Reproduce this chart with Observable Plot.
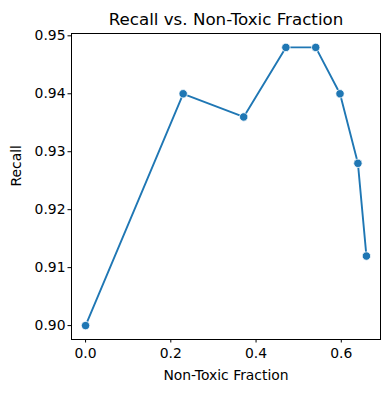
<!DOCTYPE html>
<html>
<head>
<meta charset="utf-8">
<script src="https://cdn.jsdelivr.net/npm/d3@7"></script>
<script src="https://cdn.jsdelivr.net/npm/@observablehq/plot@0.6"></script>
<style>
  html, body { margin: 0; padding: 0; background: #fff; }
  svg { display: block; }
</style>
</head>
<body>
<div id="chart"></div>
<script>
const fractions = [0.0, 0.229, 0.371, 0.470, 0.540, 0.597, 0.639, 0.659];
const recalls = [0.900, 0.940, 0.936, 0.948, 0.948, 0.940, 0.928, 0.912];
const xTicks = [0.0, 0.2, 0.4, 0.6];
const yTicks = [0.90, 0.91, 0.92, 0.93, 0.94, 0.95];
const titleText = "Recall vs. Non-Toxic Fraction";
const xLabel = "Non-Toxic Fraction";
const yLabel = "Recall";

const data = fractions.map((f, i) => ({x: f, y: recalls[i]}));
const color = "#1f77b4";
const font = "DejaVu Sans, sans-serif";

const chart = Plot.plot({
  width: 390,
  height: 393,
  marginLeft: 71,
  marginRight: 10,
  marginTop: 33,
  marginBottom: 54,
  style: {fontFamily: font, fontSize: "13.9px", color: "#000", background: "#fff"},
  x: {domain: [-0.033, 0.692]},
  y: {domain: [0.8976, 0.9504]},
  marks: [
    Plot.axisX(xTicks, {tickSize: 3.5, tickPadding: 5.5, tickFormat: d => d.toFixed(1), label: null, fontSize: 13.9}),
    Plot.axisY(yTicks, {tickSize: 3.5, tickPadding: 2.5, tickFormat: d => d.toFixed(2), label: null, fontSize: 13.9}),
    Plot.line(data, {x: "x", y: "y", stroke: color, strokeWidth: 1.9}),
    Plot.dot(data, {x: "x", y: "y", r: 4.2, fill: color, stroke: "#fff", strokeWidth: 0.8}),
    Plot.frame({stroke: "#000", strokeWidth: 1}),
    Plot.text([titleText], {frameAnchor: "top", dy: -9, lineAnchor: "bottom", fontSize: 16.7, fill: "#000"}),
    Plot.text([xLabel], {frameAnchor: "bottom", dy: 31, lineAnchor: "top", fontSize: 13.9, fill: "#000"}),
    Plot.text([yLabel], {frameAnchor: "left", dx: -55, rotate: -90, fontSize: 13.9, fill: "#000"})
  ]
});
document.getElementById("chart").appendChild(chart);
</script>
</body>
</html>
